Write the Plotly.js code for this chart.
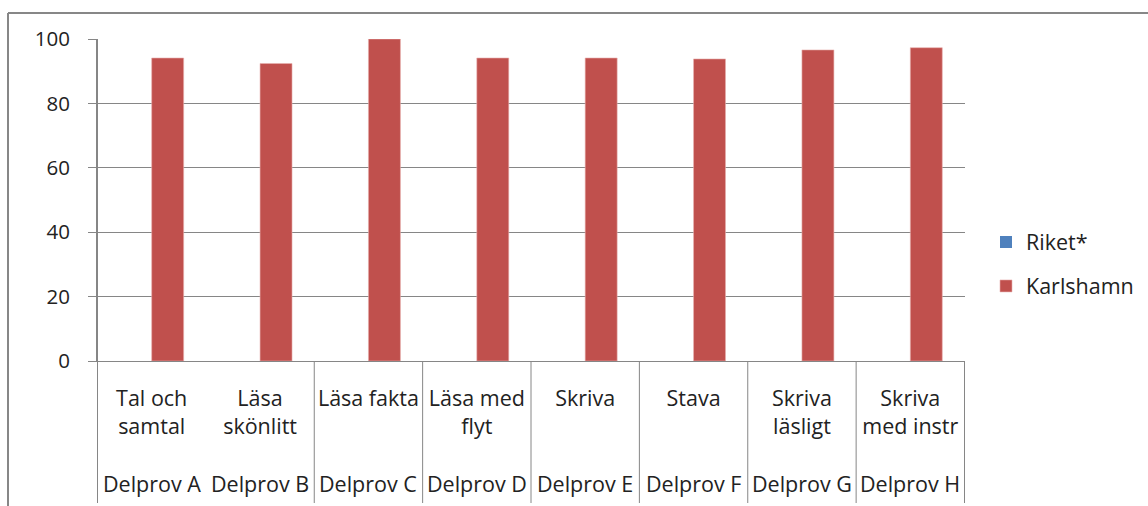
<!DOCTYPE html>
<html>
<head>
<meta charset="utf-8">
<script src="https://cdn.plot.ly/plotly-3.0.1.min.js"></script>
<style>html,body{margin:0;padding:0;background:#fff;}#chart{width:1148px;height:506px;}</style>
</head>
<body>
<div id="chart"></div>
<script>
// Data
const categories = ["Tal och samtal", "Läsa skönlitt", "Läsa fakta", "Läsa med flyt", "Skriva", "Stava", "Skriva läsligt", "Skriva med instr"];
const categoryLabels = ["Tal och<br>samtal", "Läsa<br>skönlitt", "Läsa fakta", "Läsa med<br>flyt", "Skriva", "Stava", "Skriva<br>läsligt", "Skriva<br>med instr"];
const groupLabels = ["Delprov A", "Delprov B", "Delprov C", "Delprov D", "Delprov E", "Delprov F", "Delprov G", "Delprov H"];
const riketValues = [0, 0, 0, 0, 0, 0, 0, 0];
const karlshamnValues = [94.1, 92.4, 100, 94.1, 94.1, 93.8, 96.6, 97.3];
const yTicks = [0, 20, 40, 60, 80, 100];

const FONT = "Open Sans, Lato, sans-serif";
const GRID = "#868686";
const TXT = "#222";
const FS = 21.5;
const plotL = 97, plotR = 965, plotT = 39, plotB = 361, W = 1148, H = 506;
const pw = plotR - plotL, ph = plotB - plotT;
const px = v => (v - plotL) / pw;
const py = v => (plotB - v) / ph;

const traces = [
  {type: "bar", name: "Riket*", x: categories, y: riketValues, marker: {color: "#4F81BD"}, legendgroup: "a", hoverinfo: "skip"},
  {type: "bar", name: "Karlshamn", x: categories, y: karlshamnValues, marker: {color: "#C0504D", line: {color: "#e7b0ae", width: 0.6}}, legendgroup: "b", hoverinfo: "skip"}
];

const shapes = [];
// category dividers below axis (none between A and B, as in the reference)
const divIdx = [0, 2, 3, 4, 5, 6, 7, 8];
divIdx.forEach(i => {
  shapes.push({type: "line", xref: "x", yref: "paper", x0: i - 0.5, x1: i - 0.5,
    y0: i === 0 ? 1 : 0, y1: py(503), line: {color: GRID, width: 1}, layer: "above"});
});
// outer chart border (top and left)
shapes.push({type: "line", xref: "paper", yref: "paper", x0: px(8), x1: px(W + 5), y0: py(13), y1: py(13), line: {color: "#878787", width: 2}});
shapes.push({type: "line", xref: "paper", yref: "paper", x0: px(8), x1: px(8), y0: py(13), y1: py(H + 5), line: {color: "#878787", width: 2}});

const annotations = groupLabels.map((g, i) => ({
  text: g, x: categories[i], xref: "x", yref: "paper", y: py(483), yanchor: "middle", xanchor: "center",
  showarrow: false, font: {family: FONT, size: FS, color: TXT}
}));

const layout = {
  width: W, height: H,
  margin: {l: plotL, r: W - plotR, t: plotT, b: H - plotB, autoexpand: false},
  paper_bgcolor: "#fff", plot_bgcolor: "#fff",
  barmode: "group", bargap: 0.41, bargroupgap: 0,
  font: {family: FONT, size: FS, color: TXT},
  showlegend: true,
  legend: {x: px(986), y: py(264), xanchor: "left", yanchor: "middle", traceorder: "grouped", tracegroupgap: 13,
    font: {family: FONT, size: FS, color: TXT}, bgcolor: "rgba(0,0,0,0)"},
  xaxis: {type: "category", tickvals: categories, ticktext: categoryLabels, ticks: "", showgrid: false,
    showline: true, linecolor: GRID, linewidth: 1, ticklabelstandoff: 18, fixedrange: true, automargin: false,
    tickfont: {family: FONT, size: FS, color: TXT}},
  yaxis: {range: [0, 100], tickvals: yTicks, ticks: "outside", ticklen: 8, tickcolor: GRID,
    showgrid: true, gridcolor: GRID, gridwidth: 1, showline: true, linecolor: GRID, zeroline: false, automargin: false,
    ticklabelstandoff: 14, fixedrange: true, tickfont: {family: FONT, size: 20.5, color: TXT}},
  shapes: shapes,
  annotations: annotations
};

Plotly.newPlot("chart", traces, layout, {displayModeBar: false, staticPlot: true});
</script>
</body>
</html>
